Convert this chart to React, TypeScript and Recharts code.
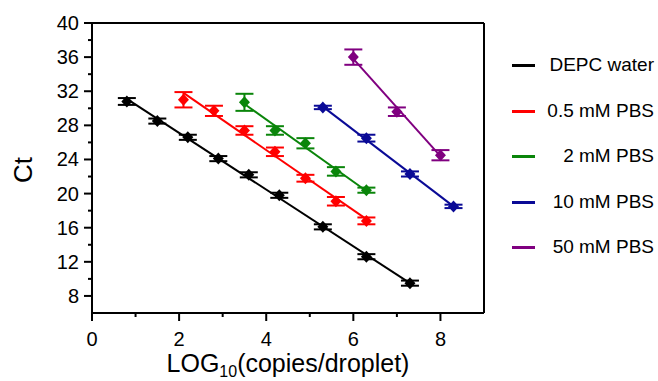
import React from 'react';
import { ComposedChart, Scatter, XAxis, YAxis, ErrorBar, ReferenceLine } from 'recharts';

// LOG10(copies/droplet) and Ct (mean ± sd) per buffer
const xDepc = [0.8, 1.5, 2.2, 2.9, 3.6, 4.3, 5.3, 6.3, 7.3];
const ctDepc = [30.8, 28.5, 26.6, 24.1, 22.2, 19.8, 16.1, 12.6, 9.5];
const errDepc = [0.4, 0.3, 0.3, 0.3, 0.3, 0.3, 0.3, 0.3, 0.3];

const xPbs05 = [2.1, 2.8, 3.5, 4.2, 4.9, 5.6, 6.3];
const ctPbs05 = [31.0, 29.7, 27.4, 24.9, 21.8, 19.1, 16.8];
const errPbs05 = [0.9, 0.6, 0.5, 0.5, 0.4, 0.5, 0.4];

const xPbs2 = [3.5, 4.2, 4.9, 5.6, 6.3];
const ctPbs2 = [30.7, 27.4, 25.9, 22.6, 20.4];
const errPbs2 = [1.0, 0.5, 0.6, 0.5, 0.3];

const xPbs10 = [5.3, 6.3, 7.3, 8.3];
const ctPbs10 = [30.1, 26.5, 22.3, 18.5];
const errPbs10 = [0.2, 0.4, 0.3, 0.2];

const xPbs50 = [6.0, 7.0, 8.0];
const ctPbs50 = [36.0, 29.6, 24.5];
const errPbs50 = [0.9, 0.5, 0.6];

// linear fit end points
const fitDepc = [31.1, 9.5];
const fitPbs05 = [31.8, 17.0];
const fitPbs2 = [30.5, 20.3];
const fitPbs10 = [30.2, 18.5];
const fitPbs50 = [35.8, 24.4];

const xTicks = [0, 1, 2, 3, 4, 5, 6, 7, 8];
const yTicks = [8, 10, 12, 14, 16, 18, 20, 22, 24, 26, 28, 30, 32, 34, 36, 38, 40];

const FONT = '"Liberation Sans", Arial, sans-serif';

const pts = (xs: number[], ys: number[], errs: number[]) =>
  xs.map((x, i) => ({ x, y: ys[i], err: errs[i] }));
const fit = (xs: number[], ends: number[]) => [
  { x: xs[0], y: ends[0] },
  { x: xs[xs.length - 1], y: ends[1] },
];

const series = [
  { name: 'DEPC water', color: '#000000', data: pts(xDepc, ctDepc, errDepc), fit: fit(xDepc, fitDepc) },
  { name: '0.5 mM PBS', color: '#ff0000', data: pts(xPbs05, ctPbs05, errPbs05), fit: fit(xPbs05, fitPbs05) },
  { name: '2 mM PBS', color: '#0a850a', data: pts(xPbs2, ctPbs2, errPbs2), fit: fit(xPbs2, fitPbs2) },
  { name: '10 mM PBS', color: '#0a0a96', data: pts(xPbs10, ctPbs10, errPbs10), fit: fit(xPbs10, fitPbs10) },
  { name: '50 mM PBS', color: '#800080', data: pts(xPbs50, ctPbs50, errPbs50), fit: fit(xPbs50, fitPbs50) },
];

const XTick = (props: any) => {
  const { x, y, payload } = props;
  const major = payload.value % 2 === 0;
  return (
    <g>
      <line x1={x} x2={x} y1={y} y2={y + (major ? 8 : 4)} stroke="#000" strokeWidth={2} />
      {major && (
        <text x={x} y={y + 33} textAnchor="middle" fontSize={20} fontFamily={FONT} fill="#000">
          {payload.value}
        </text>
      )}
    </g>
  );
};

const YTick = (props: any) => {
  const { x, y, payload } = props;
  const major = payload.value % 4 === 0;
  return (
    <g>
      <line x1={x - (major ? 8 : 4)} x2={x} y1={y} y2={y} stroke="#000" strokeWidth={2} />
      {major && (
        <text x={x - 13} y={y + 7} textAnchor="end" fontSize={20} fontFamily={FONT} fill="#000">
          {payload.value}
        </text>
      )}
    </g>
  );
};

const Diamond = (color: string) => (props: any) => {
  const { cx, cy } = props;
  if (cx == null || cy == null) return <g />;
  return <polygon points={`${cx},${cy - 6} ${cx + 5.5},${cy} ${cx},${cy + 6} ${cx - 5.5},${cy}`} fill={color} />;
};

const Nothing = () => <g />;

export default function App() {
  return (
    <div style={{ position: 'fixed', left: 0, top: 0, width: 658, height: 381, background: '#fff' }}>
      <ComposedChart width={658} height={381} margin={{ top: 23, right: 174, bottom: 8, left: 32 }}>
        <XAxis
          type="number"
          dataKey="x"
          domain={[0, 9]}
          ticks={xTicks}
          interval={0}
          height={60}
          tickSize={0}
          tickMargin={0}
          tick={<XTick />}
          axisLine={{ stroke: '#000', strokeWidth: 2 }}
          allowDataOverflow
        />
        <YAxis
          type="number"
          dataKey="y"
          domain={[6, 40]}
          ticks={yTicks}
          interval={0}
          width={60}
          tickSize={0}
          tickMargin={0}
          tick={<YTick />}
          axisLine={{ stroke: '#000', strokeWidth: 2 }}
          allowDataOverflow
        />
        <ReferenceLine y={40} stroke="#000" strokeWidth={2} />
        <ReferenceLine x={9} stroke="#000" strokeWidth={2} />
        {series.map((s) => (
          <Scatter
            key={s.name + '-fit'}
            data={s.fit}
            line={{ stroke: s.color, strokeWidth: 2 }}
            shape={Nothing}
            isAnimationActive={false}
          />
        ))}
        {series.map((s) => (
          <Scatter key={s.name} data={s.data} shape={Diamond(s.color)} isAnimationActive={false}>
            <ErrorBar dataKey="err" direction="y" width={9} strokeWidth={2} stroke={s.color} isAnimationActive={false} />
          </Scatter>
        ))}
        <text
          transform="translate(32,170) rotate(-90)"
          textAnchor="middle"
          fontSize={26}
          fontFamily={FONT}
          fill="#000"
        >
          Ct
        </text>
        <text x={288} y={372} textAnchor="middle" fontSize={25} fontFamily={FONT} fill="#000">
          LOG
          <tspan fontSize={16} dy={5}>10</tspan>
          <tspan dy={-5}>(copies/droplet)</tspan>
        </text>
      </ComposedChart>
      {series.map((s, i) => (
        <div
          key={s.name}
          style={{ position: 'absolute', left: 505, top: 65 + i * 45.5 - 12, width: 150, height: 24 }}
        >
          <div style={{ position: 'absolute', left: 7, top: 11, width: 23, height: 3, background: s.color }} />
          <div
            style={{
              position: 'absolute',
              right: 1,
              top: 0,
              lineHeight: '24px',
              fontSize: 19,
              fontFamily: FONT,
              color: '#000',
              whiteSpace: 'nowrap',
            }}
          >
            {s.name}
          </div>
        </div>
      ))}
    </div>
  );
}
